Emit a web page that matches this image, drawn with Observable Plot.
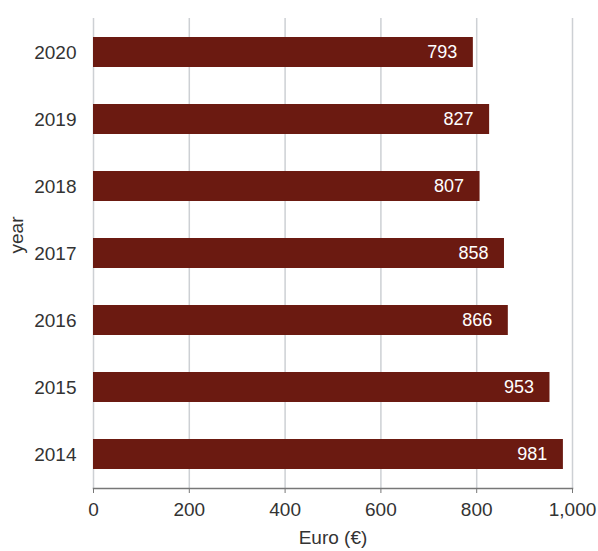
<!DOCTYPE html>
<html>
<head>
<meta charset="utf-8">
<script src="https://cdn.jsdelivr.net/npm/d3@7"></script>
<script src="https://cdn.jsdelivr.net/npm/@observablehq/plot@0.6"></script>
<style>
  body { margin: 0; background: #fff; }
</style>
</head>
<body>
<div id="chart"></div>
<script>
const years = ["2020", "2019", "2018", "2017", "2016", "2015", "2014"];
const values = [793, 827, 807, 858, 866, 953, 981];
const xTicks = [0, 200, 400, 600, 800, 1000];

const data = years.map((y, i) => ({year: y, value: values[i]}));
const font = "'Liberation Sans', Arial, sans-serif";

const chart = Plot.plot({
  width: 598,
  height: 551,
  marginLeft: 93,
  marginRight: 26,
  marginTop: 18,
  marginBottom: 63,
  style: {fontFamily: font, fontSize: "19px", color: "#333", background: "#fff"},
  x: {domain: [0, 1000], ticks: xTicks, tickFormat: d3.format(",")},
  y: {domain: years, paddingInner: 0.55, paddingOuter: 0.275, align: 0.5},
  marks: [
    Plot.gridX(xTicks, {stroke: "#cdd0d4", strokeOpacity: 1, strokeWidth: 1.5}),
    Plot.barX(data, {x: "value", y: "year", fill: "#6B1A11"}),
    Plot.text(data, {x: "value", y: "year", text: d => d3.format(",")(d.value), textAnchor: "end", dx: -16, fill: "white", fontSize: 18}),
    Plot.frame({anchor: "bottom", stroke: "#777", strokeWidth: 1.5}),
    Plot.axisX({ticks: xTicks, tickFormat: d3.format(","), tickSize: 5, tickPadding: 9, stroke: "#777", fill: "#333", fontSize: 19, label: null}),
    Plot.axisY({tickSize: 0, tickPadding: 17, fill: "#333", fontSize: 19, label: null}),
    Plot.text(["Euro (€)"], {frameAnchor: "bottom", dy: 55, fill: "#333", fontSize: 19}),
    Plot.text(["year"], {frameAnchor: "left", dx: -77, rotate: -90, fill: "#333", fontSize: 19})
  ]
});
document.getElementById("chart").appendChild(chart);
</script>
</body>
</html>
